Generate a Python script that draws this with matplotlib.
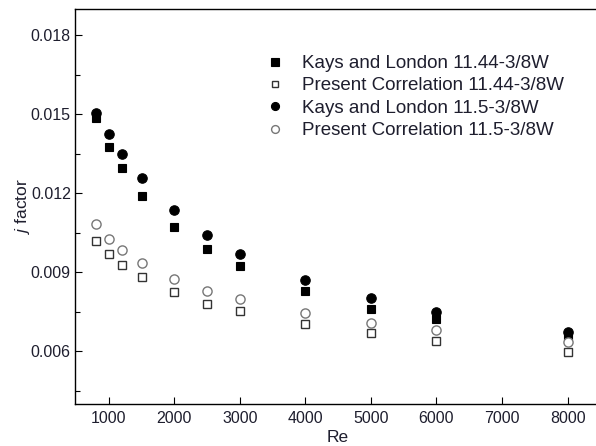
import matplotlib
matplotlib.use("Agg")
import matplotlib.pyplot as plt
from matplotlib.ticker import MultipleLocator, FixedLocator

plt.rcParams['font.family'] = ['Liberation Sans', 'DejaVu Sans']
plt.rcParams['mathtext.fontset'] = 'custom'
plt.rcParams['mathtext.it'] = 'Liberation Sans:italic'
plt.rcParams['mathtext.rm'] = 'Liberation Sans'

# Reynolds numbers
re_kl = [800, 1000, 1200, 1500, 2000, 2500, 3000, 4000, 5000, 6000, 8000]

# Colburn j factor for the two surfaces
kl_1144 = [0.01485, 0.01377, 0.01298, 0.0119, 0.01072, 0.0099, 0.00923, 0.0083, 0.00761, 0.00721, 0.0066]
pc_1144 = [0.01019, 0.00968, 0.00928, 0.00881, 0.00826, 0.0078, 0.00752, 0.00705, 0.00668, 0.00639, 0.00598]
kl_115 = [0.01504, 0.01424, 0.01351, 0.0126, 0.01137, 0.01041, 0.0097, 0.00872, 0.00802, 0.0075, 0.00673]
pc_115 = [0.01083, 0.01028, 0.00985, 0.00936, 0.00875, 0.00831, 0.00797, 0.00746, 0.00708, 0.0068, 0.00635]

labels = ["Kays and London 11.44-3/8W",
          "Present Correlation 11.44-3/8W",
          "Kays and London 11.5-3/8W",
          "Present Correlation 11.5-3/8W"]

x_ticks = [1000, 2000, 3000, 4000, 5000, 6000, 7000, 8000]
y_ticks = [0.006, 0.009, 0.012, 0.015, 0.018]

W, H = 596, 446
fig = plt.figure(figsize=(W / 100, H / 100), dpi=100)
ax = fig.add_axes([75 / W, 42 / H, 526 / W, 395 / H])

txt = '#1e1e2e'

ax.plot(re_kl, kl_1144, ls='none', marker='s', ms=6.3, mfc='black', mec='black', mew=0.8, label=labels[0], zorder=3)
ax.plot(re_kl, pc_1144, ls='none', marker='s', ms=5.6, mfc='white', mec='#333333', mew=1.0, label=labels[1], zorder=3)
ax.plot(re_kl, kl_115, ls='none', marker='o', ms=6.8, mfc='black', mec='black', mew=0.8, label=labels[2], zorder=3)
ax.plot(re_kl, pc_115, ls='none', marker='o', ms=6.6, mfc='white', mec='#777777', mew=1.0, label=labels[3], zorder=3)

ax.set_xlim(485, 8510)
ax.set_ylim(0.0040, 0.0190)

ax.xaxis.set_major_locator(FixedLocator(x_ticks))
ax.set_xticklabels([str(v) for v in x_ticks])
ax.yaxis.set_major_locator(FixedLocator(y_ticks))
ax.set_yticklabels([f"{v:.3f}" for v in y_ticks])
ax.yaxis.set_minor_locator(MultipleLocator(0.0015))

ax.tick_params(axis='both', which='major', direction='in', length=5, width=0.8,
               labelsize=11.5, labelcolor=txt, color='black')
ax.tick_params(axis='x', which='major', pad=5)
ax.tick_params(axis='y', which='major', pad=3)
ax.tick_params(axis='y', which='minor', direction='in', length=3.5, width=0.8)
ax.tick_params(top=False, right=False)

for s in ax.spines.values():
    s.set_linewidth(1.0)
    s.set_color('black')
ax.spines['right'].set_visible(False)

ax.set_xlabel("Re", fontsize=12.5, color=txt, labelpad=3)
ax.set_ylabel(r"$\it{j}$ factor", fontsize=12.5, color=txt, labelpad=-1)

leg = ax.legend(loc='upper left', bbox_to_anchor=(265.5 / W, 1 - 55 / H),
                bbox_transform=fig.transFigure, frameon=False, fontsize=13.5,
                handlelength=1.0, handletextpad=0.92, labelspacing=0.28,
                borderaxespad=0, borderpad=0, numpoints=1, markerscale=0.85)
for t in leg.get_texts():
    t.set_color(txt)

fig.savefig("out.png", dpi=100)
